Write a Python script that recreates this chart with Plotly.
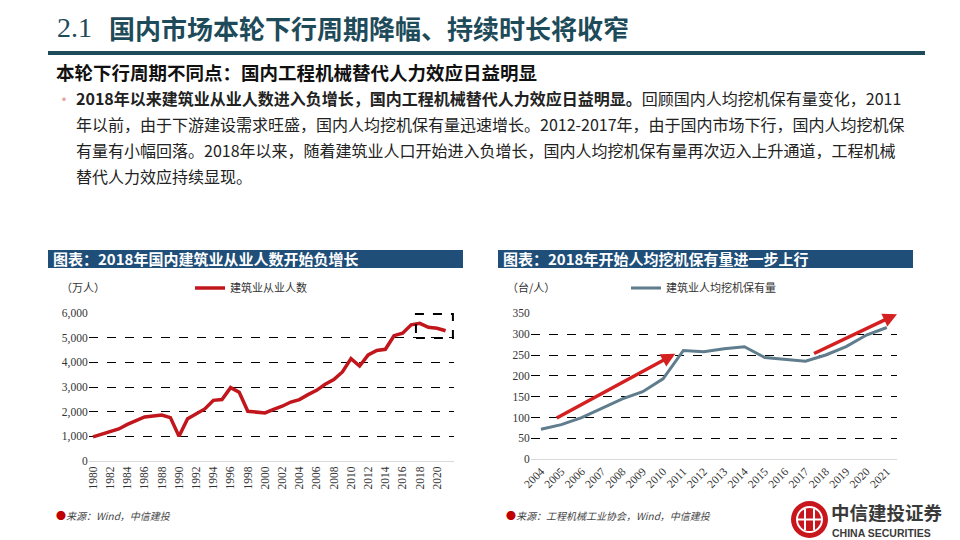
import plotly.graph_objects as go

# 左图：建筑业从业人数（万人）
years_emp = list(range(1980, 2022))
employment = [975, 1080, 1175, 1300, 1485, 1650, 1785, 1825, 1865, 1760,
              1000, 1715, 1920, 2110, 2460, 2490, 2975, 2785, 2015, 2000,
              1950, 2090, 2220, 2390, 2490, 2690, 2865, 3110, 3300, 3610,
              4150, 3850, 4300, 4480, 4530, 5080, 5180, 5520, 5580, 5420,
              5380, 5280]
emp_ticks = list(range(1980, 2021, 2))

# 右图：建筑业人均挖机保有量（台/人）
years_exc = list(range(2004, 2022))
exc_per_person = [72, 83, 100, 123, 145, 162, 193, 261, 258, 265,
                  270, 244, 240, 235, 250, 270, 298, 316]

# trend arrows (start -> end, data units)
arrow_up_1 = ([2004.7, 2010.6], [97, 253])
arrow_up_2 = ([2017.35, 2021.5], [252, 348])
# highlighted box on the left chart
box_years = [2017.55, 2021.85]
box_vals = [4985, 5960]

W, H = 960, 540
CJK = "Noto Sans CJK SC"
SERIF = "Liberation Serif"


def px(x):
    return x / W


def py(y):
    return 1 - y / H


fig = go.Figure()
fig.add_trace(go.Scatter(
    x=years_emp, y=employment, mode="lines", name="建筑业从业人数", showlegend=True,
    line=dict(color="#c0161c", width=3.5), xaxis="x", yaxis="y", legend="legend"
))
fig.add_trace(go.Scatter(
    x=years_exc, y=exc_per_person, mode="lines", name="建筑业人均挖机保有量", showlegend=True,
    line=dict(color="#5f7d8c", width=3), xaxis="x2", yaxis="y2", legend="legend2"
))
# header rule, drawn on a hidden pixel-scaled strip at the top of the page
fig.add_trace(go.Scatter(
    x=[48, 925], y=[53, 53], mode="lines", showlegend=False, hoverinfo="skip",
    line=dict(color="#1e4b5a", width=4), xaxis="x3", yaxis="y3"
))

tickfont = dict(family=SERIF, size=11.5, color="#333333")
grid = dict(gridcolor="black", griddash="dash", gridwidth=1, zeroline=False,
            tickfont=tickfont, ticks="")

fig.update_layout(
    width=W, height=H,
    margin=dict(l=0, r=0, t=0, b=0, autoexpand=False),
    paper_bgcolor="white", plot_bgcolor="white",
    showlegend=True,
    # one category = 8.6 px; the extra half category on the right keeps the box unclipped
    xaxis=dict(domain=[px(88.7), px(454.2)], range=[1979.5, 2022], anchor="y",
               tickvals=emp_ticks, tickangle=-90, showgrid=False, ticks="",
               tickfont=tickfont, showline=True, linecolor="#d9d9d9", linewidth=1),
    yaxis=dict(domain=[py(461), py(313)], range=[0, 6000], dtick=1000,
               tickformat=",", anchor="x", **grid),
    xaxis2=dict(domain=[px(530.8), px(897)], range=[2003.5, 2021.5], anchor="y2",
                tickvals=years_exc, tickangle=-45, showgrid=False, ticks="",
                tickfont=tickfont, showline=True, linecolor="#d9d9d9", linewidth=1),
    yaxis2=dict(domain=[py(459.3), py(313.3)], range=[0, 350], dtick=50,
                anchor="x2", **grid),
    xaxis3=dict(domain=[0, 1], range=[0, W], visible=False, anchor="y3"),
    yaxis3=dict(domain=[py(60), py(46)], range=[60, 46], visible=False, anchor="x3"),
    legend=dict(x=px(190), y=py(288), xanchor="left", yanchor="middle",
                orientation="h", itemwidth=30, bgcolor="rgba(0,0,0,0)",
                font=dict(family=CJK, size=11, color="#333333")),
    legend2=dict(x=px(626), y=py(288), xanchor="left", yanchor="middle",
                 orientation="h", itemwidth=30, bgcolor="rgba(0,0,0,0)",
                 font=dict(family=CJK, size=11, color="#333333")),
)

shapes = [
    # chart title bars
    dict(type="rect", xref="paper", yref="paper", x0=px(48), x1=px(463),
         y0=py(268), y1=py(250), fillcolor="#1f4e79", line=dict(width=0)),
    dict(type="rect", xref="paper", yref="paper", x0=px(498), x1=px(913),
         y0=py(268), y1=py(250), fillcolor="#1f4e79", line=dict(width=0)),
    # dashed highlight box
    dict(type="rect", xref="x", yref="y", x0=box_years[0], x1=box_years[1],
         y0=box_vals[0], y1=box_vals[1], line=dict(color="black", width=2, dash="dash")),
    # logo
    dict(type="circle", xref="paper", yref="paper", x0=px(791), x1=px(828),
         y0=py(538), y1=py(501), fillcolor="#c8161d", line=dict(width=0)),
    dict(type="circle", xref="paper", yref="paper", x0=px(797), x1=px(822),
         y0=py(532), y1=py(507), fillcolor="rgba(0,0,0,0)",
         line=dict(color="white", width=2)),
    dict(type="line", xref="paper", yref="paper", x0=px(805), x1=px(805),
         y0=py(530), y1=py(509), line=dict(color="white", width=2)),
    dict(type="line", xref="paper", yref="paper", x0=px(814), x1=px(814),
         y0=py(530), y1=py(509), line=dict(color="white", width=2)),
    dict(type="line", xref="paper", yref="paper", x0=px(797), x1=px(822),
         y0=py(519.5), y1=py(519.5), line=dict(color="white", width=2)),
]
fig.update_layout(shapes=shapes)


def note(x, y, text, size, color="#222222", family=CJK, xanchor="left"):
    fig.add_annotation(x=px(x), y=py(y), xref="paper", yref="paper", text=text,
                       showarrow=False, xanchor=xanchor, yanchor="middle",
                       borderpad=0, font=dict(family=family, size=size, color=color))


# header
note(56, 27, "2.1", 28, color="#1e4b5a", family=SERIF)
note(108, 27, "<b>国内市场本轮下行周期降幅、持续时长将收窄</b>", 26, color="#1e4b5a")
note(55, 72, "<b>本轮下行周期不同点：国内工程机械替代人力效应日益明显</b>", 18.5, color="#111111")

# body paragraph
note(55, 98, "•", 16, color="#e8a0a0")
body = [
    "<b>2018年以来建筑业从业人数进入负增长，国内工程机械替代人力效应日益明显。</b>回顾国内人均挖机保有量变化，2011",
    "年以前，由于下游建设需求旺盛，国内人均挖机保有量迅速增长。2012-2017年，由于国内市场下行，国内人均挖机保",
    "有量有小幅回落。2018年以来，随着建筑业人口开始进入负增长，国内人均挖机保有量再次迈入上升通道，工程机械",
    "替代人力效应持续显现。",
]
for i, line in enumerate(body):
    note(75, 98 + 26 * i, line, 16, color="#222222")

# chart titles
note(52, 258, "<b>图表：2018年国内建筑业从业人数开始负增长</b>", 15, color="white")
note(502, 258, "<b>图表：2018年开始人均挖机保有量进一步上行</b>", 15, color="white")

# units
note(60, 287, "（万人）", 11, color="#333333")
note(506, 287, "（台/人）", 11, color="#333333")

# sources
note(55, 515, "<span style='color:#c00000'>●</span><i>来源：Wind，中信建投</i>", 10, color="#444444")
note(505, 515, "<span style='color:#c00000'>●</span><i>来源：工程机械工业协会，Wind，中信建投</i>", 10, color="#444444")

# logo text
note(830, 512, "<b>中信建投证券</b>", 18.5, color="#3a3a3a")
note(831, 533, "<b>CHINA SECURITIES</b>", 10.5, color="#3a3a3a", family="Liberation Sans")

# arrows on right chart
for ax_x, ax_y in (arrow_up_1, arrow_up_2):
    fig.add_annotation(x=ax_x[1], y=ax_y[1], ax=ax_x[0], ay=ax_y[0],
                       xref="x2", yref="y2", axref="x2", ayref="y2",
                       text="", showarrow=True, arrowhead=2, arrowsize=0.8,
                       arrowwidth=3.5, arrowcolor="#d42020")

# drop the default page margin so the figure sits at the window's top-left corner
fig.write_html("out.html", config={"displayModeBar": False},
               post_script="document.body.style.margin='0';")
